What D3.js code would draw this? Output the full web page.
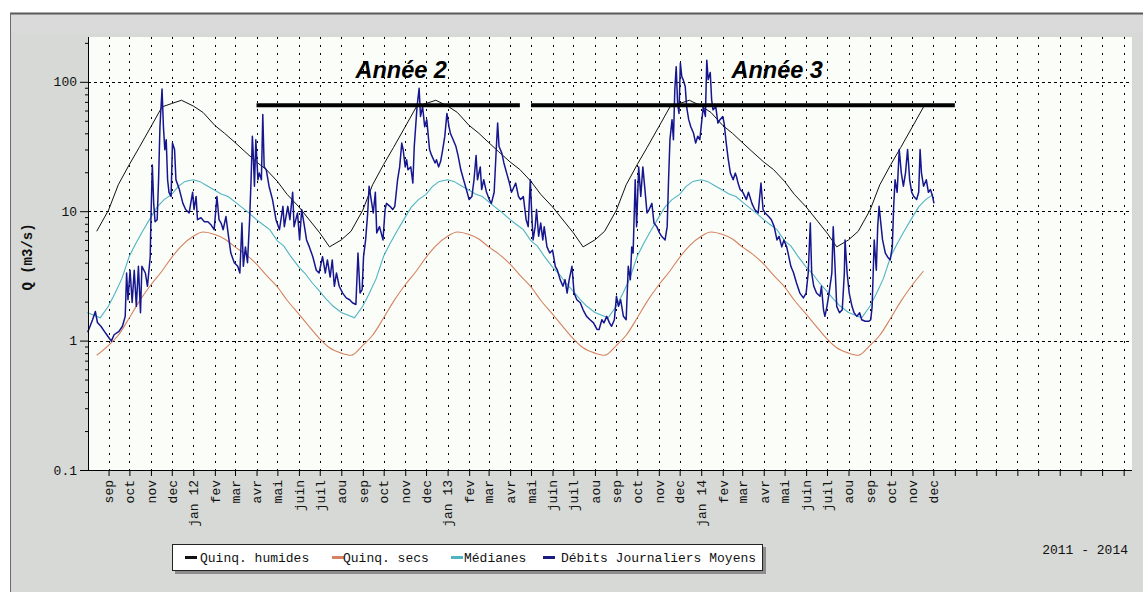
<!DOCTYPE html>
<html><head><meta charset="utf-8">
<script src="https://cdn.jsdelivr.net/npm/d3@7"></script>
<style>body{margin:0;background:#fff}svg{display:block}</style>
</head><body>
<svg id="c" width="1143" height="592"></svg>
<script>
// ---------------- DATA ----------------
const monthNames = ["jan","fev","mar","avr","mai","juin","juil","aou","sep","oct","nov","dec"];
const yMajorTicks = [0.1, 1, 10, 100];
const yTickLabels = ["0.1", "1", "10", "100"];
const legendLabels = ["Quinq. humides", "Quinq. secs", "Médianes", "Débits Journaliers Moyens"];
const periodLabel = "2011 - 2014";
const yTitle = "Q (m3/s)";

// annual profiles (month-day -> value, m3/s)
const wetDays   = ["01-01","01-15","02-01","02-15","03-01","03-15","04-01","04-15","05-01","05-15","06-01","06-15","07-01","07-15","08-01","08-15","09-01","09-15","10-01","10-15","11-01","11-17","12-01","12-15"];
const wetValues = [65,58,46,40,34,29,24,21,17,13.5,10.8,8.7,6.8,5.3,6.0,7.0,10.2,16,23,31,45,64,68,72];

const dryDays   = ["01-01","01-15","02-01","02-15","03-01","03-15","04-01","04-15","05-01","05-15","06-01","06-15","07-01","07-15","08-01","08-15","09-01","09-15","10-01","10-15","11-01","11-17","12-01","12-15"];
const dryValues = [6.4,6.9,6.6,6.1,5.3,4.7,3.9,3.2,2.6,2.05,1.6,1.3,1.03,0.88,0.8,0.77,0.92,1.1,1.5,2.0,2.7,3.45,4.4,5.4];

const medDays   = ["01-01","01-10","01-20","02-01","02-10","02-20","03-01","03-10","03-20","04-01","04-10","04-20","05-01","05-10","05-20","06-01","06-10","06-20","07-01","07-10","07-20","08-01","08-10","08-20","09-01","09-10","09-20","10-01","10-10","10-20","11-01","11-10","11-20","12-01","12-10","12-20"];
const medValues = [17.5,17.0,15.8,14.5,13.6,13.0,11.8,10.8,9.8,8.6,7.9,7.2,5.9,5.4,4.5,3.7,3.3,2.8,2.4,2.1,1.85,1.65,1.58,1.5,1.85,2.3,3.0,4.5,5.6,7.0,9.0,10.8,12.3,13.5,15.5,17.0];

const statStart = "2011-08-15", statEnd = "2014-11-17";
const medStart = "2011-08-01", medEnd = "2014-12-01";

// daily mean flows: day offset from 2011-08-01, value
const flowOrigin = "2011-08-01";
const flowDay = [1,8,12,15,20,25,30,35,39,46,51,55,57,59,62,65,68,71,74,77,79,84,87,91,92,94,96,98,101,103,105,108,110,112,114,116,118,121,123,126,128,133,138,142,147,152,154,157,159,164,169,174,178,183,187,190,193,196,200,203,207,212,217,220,223,225,228,231,234,236,238,239,241,243,246,248,251,253,255,258,262,267,272,277,282,284,289,292,296,298,303,306,309,313,316,320,325,330,334,339,343,346,350,353,356,359,363,368,373,378,382,387,390,393,396,398,401,404,406,409,412,415,
417,421,426,429,431,436,440,443,447,450,453,455,458,460,462,466,469,471,473,475,478,480,483,486,489,493,496,501,503,506,509,512,515,518,521,523,527,531,534,538,542,546,550,554,557,560,562,566,568,571,575,579,582,586,589,591,593,597,600,604,608,611,615,617,621,624,628,632,635,638,640,642,645,647,650,653,656,658,662,666,670,674,677,681,685,688,691,694,698,701,705,710,714,719,724,729,734,737,741,744,748,752,755,759,762,765,768,772,776,779,782,784,786,789,791,794,797,800,803,806,809,813,816,820,824,
827,832,835,837,839,842,844,846,848,850,852,854,856,858,861,863,866,869,873,876,879,882,885,887,890,892,894,897,899,901,905,908,911,915,917,920,923,926,930,933,935,937,940,944,949,952,957,961,966,970,973,976,981,985,989,993,996,1000,1003,1007,1009,1013,1017,1021,1026,1031,1035,1038,1041,1043,1046,1050,1055,1057,1060,1062,1065,1068,1072,1074,1077,1079,1083,1087,1090,1091,1094,1097,1101,1104,1108,1112,1115,1120,1125,1128,1130,1133,1136,1138,1140,1143,1145,1149,1152,1156,1159,1161,1163,1166,1169,1172,1175,1178,1181,1184,1187,1190,1194,1197,1199,1201,1204,1208,1211,1214,1217,1219];
const flowValue = [1.16,1.45,1.68,1.38,1.29,1.18,1.08,0.99,1.11,1.18,1.29,1.54,3.33,2.07,3.5,1.97,3.5,1.84,3.75,1.64,3.75,3.33,2.63,4.45,8.6,22.8,11.5,8.3,8.6,17.5,45,88,45,29.9,35.7,17.5,14,13,33.6,30,17.5,14.7,11.5,10.3,9.7,14,10.3,13,8.6,8.9,8.3,8.3,7.9,7.2,13,8.6,8.1,7.2,9.1,6.8,4.75,4.0,3.75,3.33,8.1,3.75,5.3,4.0,8.6,16.5,38,30,15.6,35.7,17.5,19.7,17.5,56,22,20.9,15.6,12.3,8.6,7.2,10.9,7.6,10.9,8.6,14,7.6,9.7,6.0,10.3,7.6,6.0,5.3,4.45,3.5,3.33,4.45,3.33,4.2,3.1,4.2,2.63,3.33,2.63,2.33,2.14,2.07,1.96,1.9,4.75,2.33,2.48,4.45,6.0,9.7,15.6,12.3,9.7,14,
6.8,7.6,6.0,10.3,11.5,10.9,10.3,10.9,17.5,22,33.6,30,22,25,20.9,22,16.5,31.6,45,64,89,54,64,45,51,30,27,23.6,25,22,24.3,30,38,57,45,40,35.7,31.6,27,20.9,17.5,14.7,12.3,13,17.5,27,17.5,22,14.7,17.5,14,12.3,11.5,14,30,48,31.6,28.2,23.6,19.7,16.5,14,15.6,16.5,13,12.3,13,8.6,7.6,17.5,9.7,6.0,7.6,10.3,6.4,8.1,6.0,7.6,5.3,4.75,5.0,3.75,3.5,2.96,2.63,2.96,2.33,2.96,3.75,2.33,2.07,1.96,1.73,1.54,1.45,1.37,1.22,1.22,1.45,1.37,1.54,1.37,1.29,1.45,2.2,1.84,2.07,1.54,1.45,3.75,2.96,5.3,4.75,17.5,7.6,22,13,22,14.7,9.7,10.3,11.5,8.1,7.6,6.8,
6.4,6.0,7.6,17.5,35.7,51,35.7,87,131,68,57,140,110,104,92,64,51,45,40,33.6,38,35.7,51,64,54,147,104,118,72.6,60.8,64,48,51,54,48,33.6,25,19.7,17.5,19.7,18.3,16.5,14.7,14,12.3,14,11.5,10.3,9.7,16.5,10.3,9.7,9.1,8.6,7.6,6.0,6.4,5.3,6.0,5.3,4.75,3.75,3.33,2.8,2.33,2.14,2.33,3.33,8.1,3.33,2.63,2.33,2.2,2.63,1.73,1.54,1.84,2.33,3.33,7.6,3.33,1.84,1.64,1.73,3.33,6.0,3.33,2.33,1.84,1.64,1.54,1.64,1.45,1.41,1.41,1.45,1.84,6.0,3.5,7.6,10.9,7.6,6.0,4.75,4.45,4.2,5.3,10.9,17.5,14,30,19.7,15.6,19.7,30,17.5,14,13,12.3,14,30,19.7,15.6,17.5,14,14.7,13,11.5];

// annotation periods
const periodNames  = ["Année 2", "Année 3"];
const periodStarts = ["2012-04-01", "2013-05-01"];
const periodEnds   = ["2013-04-15", "2015-01-01"];
const periodLevel  = 66;

// ---------------- CHART ----------------
const parse = d3.utcParse("%Y-%m-%d");
const svg = d3.select("#c");
const mono = "'Liberation Mono', 'DejaVu Sans Mono', monospace";
const colWet = "#111111", colDry = "#d4825f", colMed = "#4fb3c4", colFlow = "#16168f";

const L = 88, R = 1132, T = 37, B = 470;
const x = d3.scaleUtc().domain([parse("2011-08-01"), parse("2015-09-13")]).range([87, R]);
const y = d3.scaleLog().domain([0.1, 222]).range([B, T]);

// background frame
svg.append("rect").attr("x",0).attr("y",0).attr("width",1143).attr("height",592).attr("fill","#ffffff");
svg.append("rect").attr("x",10).attr("y",13).attr("width",1133).attr("height",579).attr("fill","#d6d9d5");
svg.append("rect").attr("x",11).attr("y",15).attr("width",1132).attr("height",18).attr("fill","#dadada");
svg.append("line").attr("x1",10).attr("x2",1143).attr("y1",13.5).attr("y2",13.5).attr("stroke","#5a5a5a").attr("stroke-width",2);
svg.append("line").attr("x1",10.5).attr("x2",10.5).attr("y1",13).attr("y2",592).attr("stroke","#6a6a6a").attr("stroke-width",1);
svg.append("rect").attr("x",L).attr("y",T).attr("width",R-L).attr("height",B-T).attr("fill","#fbfdf9");

// grid
const months = d3.utcMonth.range(parse("2011-09-01"), x.domain()[1]);
const g = svg.append("g");
g.selectAll("line.v").data(months).join("line")
  .attr("x1", d => Math.round(x(d)) + 0.5).attr("x2", d => Math.round(x(d)) + 0.5)
  .attr("y1", T).attr("y2", B)
  .attr("stroke", "#000").attr("stroke-width", 1).attr("stroke-dasharray", "2,6");
g.selectAll("line.h").data(yMajorTicks.slice(1)).join("line")
  .attr("x1", L).attr("x2", R)
  .attr("y1", d => Math.round(y(d)) + 0.5).attr("y2", d => Math.round(y(d)) + 0.5)
  .attr("stroke", "#000").attr("stroke-width", 1).attr("stroke-dasharray", "3,3");

// series builders
function profileSeries(days, values, s, e) {
  const start = parse(s), end = parse(e), pts = [];
  for (let yr = 2011; yr <= 2015; yr++) {
    days.forEach((md, i) => {
      const t = parse(yr + "-" + md);
      if (t >= start && t <= end) pts.push({ t, v: values[i] });
    });
  }
  return pts.sort((a, b) => a.t - b.t);
}
const wet = profileSeries(wetDays, wetValues, statStart, statEnd);
const dry = profileSeries(dryDays, dryValues, statStart, statEnd);
const med = profileSeries(medDays, medValues, medStart, medEnd);
const origin = parse(flowOrigin);
const flow = flowDay.map((d, i) => ({ t: d3.utcDay.offset(origin, d), v: flowValue[i] }));

const line = d3.line().x(d => x(d.t)).y(d => y(d.v));
const smooth = d3.line().x(d => x(d.t)).y(d => y(d.v)).curve(d3.curveMonotoneX);

const plot = svg.append("g");
plot.append("path").datum(dry).attr("d", smooth).attr("fill","none").attr("stroke",colDry).attr("stroke-width",1.1);
plot.append("path").datum(med).attr("d", line).attr("fill","none").attr("stroke",colMed).attr("stroke-width",1.1);
plot.append("path").datum(wet).attr("d", line).attr("fill","none").attr("stroke",colWet).attr("stroke-width",1);
plot.append("path").datum(flow).attr("d", line).attr("fill","none").attr("stroke",colFlow).attr("stroke-width",1.5).attr("stroke-linejoin","round");

// axes
const minorTicks = [];
[0.1, 1, 10, 100].forEach(b => { for (let k = 2; k <= 9; k++) if (b * k <= 222) minorTicks.push(b * k); });
const ayMinor = svg.append("g").attr("transform", `translate(${L},0)`)
  .call(d3.axisLeft(y).tickValues(minorTicks).tickSize(3).tickFormat(""));
const ayMajor = svg.append("g").attr("transform", `translate(${L},0)`)
  .call(d3.axisLeft(y).tickValues(yMajorTicks).tickSize(8).tickPadding(3)
    .tickFormat((d, i) => yTickLabels[i]));
[ayMinor, ayMajor].forEach(a => {
  a.select(".domain").attr("stroke", "#000");
  a.selectAll(".tick line").attr("stroke", "#000");
});
ayMinor.select(".domain").remove();
ayMajor.select(".domain").attr("d", `M0.5,${T}V${B}`);
ayMajor.selectAll("text").attr("font-family", mono).attr("font-size", 13).attr("fill", "#111");

const lastLabeled = parse("2014-12-01");
const ax = svg.append("g").attr("transform", `translate(0,${B})`)
  .call(d3.axisBottom(x).tickValues(months).tickSize(6).tickSizeOuter(0)
    .tickFormat(d => d > lastLabeled ? "" :
      (d.getUTCMonth() === 0 ? monthNames[0] + " " + String(d.getUTCFullYear()).slice(2) : monthNames[d.getUTCMonth()])));
ax.select(".domain").attr("d", `M${L},0.5H${R}`).attr("stroke", "#000");
ax.selectAll(".tick line").attr("stroke", "#000");
ax.selectAll(".tick text")
  .attr("font-family", mono).attr("font-size", 13).attr("fill", "#111")
  .attr("transform", "rotate(-90)").attr("text-anchor", "end")
  .attr("x", -10).attr("y", 0).attr("dy", "0.33em");

// y title
svg.append("text").attr("transform", "translate(32,257) rotate(-90)")
  .attr("text-anchor", "middle").attr("font-family", mono).attr("font-weight", "bold")
  .attr("font-size", 14).attr("fill", "#111").text(yTitle);

// annotations
const ann = svg.append("g");
periodNames.forEach((name, i) => {
  ann.append("line")
    .attr("x1", x(parse(periodStarts[i]))).attr("x2", x(parse(periodEnds[i])))
    .attr("y1", y(periodLevel)).attr("y2", y(periodLevel))
    .attr("stroke", "#000").attr("stroke-width", 4);
});
const annTextX = [355.5, 731.5];
periodNames.forEach((name, i) => {
  ann.append("text").attr("x", annTextX[i]).attr("y", 77.5)
    .attr("font-family", "'Liberation Sans', Arial, sans-serif").attr("font-weight", "bold")
    .attr("font-style", "italic").attr("font-size", 23.5).attr("fill", "#000").text(name);
});

// legend
const leg = svg.append("g");
leg.append("rect").attr("x", 175).attr("y", 547).attr("width", 591).attr("height", 27).attr("fill", "#8c8c8c");
leg.append("rect").attr("x", 172.5).attr("y", 544.5).attr("width", 590).attr("height", 26).attr("fill", "#fff").attr("stroke", "#222");
const legColors = [colWet, colDry, colMed, "#1c1c80"];
const legSwatchX = [185, 332, 451, 543];
const legTextX = [200, 343, 464, 561];
legendLabels.forEach((lab, i) => {
  leg.append("line").attr("x1", legSwatchX[i]).attr("x2", legSwatchX[i] + 12)
    .attr("y1", 557.5).attr("y2", 557.5).attr("stroke", legColors[i]).attr("stroke-width", 3);
  leg.append("text").attr("x", legTextX[i]).attr("y", 562)
    .attr("font-family", mono).attr("font-size", 13).attr("fill", "#111").text(lab);
});

svg.append("text").attr("x", 1128).attr("y", 554).attr("text-anchor", "end")
  .attr("font-family", mono).attr("font-size", 13).attr("fill", "#111").text(periodLabel);
</script>
</body></html>
